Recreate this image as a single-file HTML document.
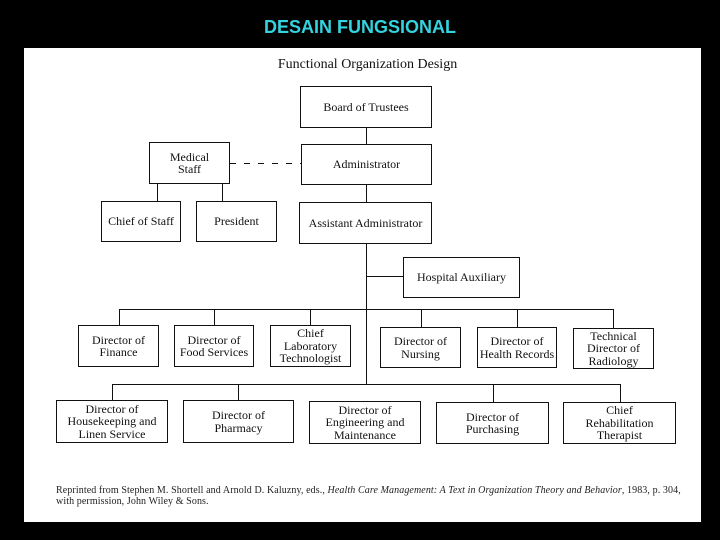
<!DOCTYPE html>
<html><head><meta charset="utf-8"><style>
body{margin:0;width:720px;height:540px;background:#000;overflow:hidden;position:relative;font-family:"Liberation Serif",serif}
.t{position:absolute;left:0;width:720px;top:17px;text-align:center;color:#33d3df;font:bold 18px "Liberation Sans",sans-serif}
.p{position:absolute;left:24px;top:48px;width:677px;height:474px;background:#fff}
.b{position:absolute;border:1.3px solid #111;box-sizing:border-box;display:flex;align-items:center;justify-content:center;text-align:center;font-size:12px;line-height:12.5px;color:#111;background:#fff}
.l{position:absolute;background:#111}
.fn{position:absolute;left:56px;top:485px;font-size:10px;letter-spacing:0.1px;line-height:11px;color:#222;width:640px;white-space:nowrap}
</style></head><body>
<div class="t">DESAIN FUNGSIONAL</div>
<div class="p"></div>
<div style="position:absolute;left:260px;top:57px;width:215px;text-align:center;font-size:14px;color:#111">Functional Organization Design</div>
<div class="l" style="left:366px;top:128px;width:1px;height:257px"></div>
<div class="l" style="left:230px;top:163px;width:71px;height:1px;background:repeating-linear-gradient(90deg,#111 0 6px,transparent 6px 14px)"></div>
<div class="l" style="left:157px;top:184px;width:1px;height:17px"></div>
<div class="l" style="left:222px;top:184px;width:1px;height:17px"></div>
<div class="l" style="left:366px;top:276px;width:37px;height:1px"></div>
<div class="l" style="left:119px;top:309px;width:495px;height:1px"></div>
<div class="l" style="left:119px;top:309px;width:1px;height:16px"></div>
<div class="l" style="left:214px;top:309px;width:1px;height:16px"></div>
<div class="l" style="left:310px;top:309px;width:1px;height:16px"></div>
<div class="l" style="left:421px;top:309px;width:1px;height:18px"></div>
<div class="l" style="left:517px;top:309px;width:1px;height:18px"></div>
<div class="l" style="left:613px;top:309px;width:1px;height:19px"></div>
<div class="l" style="left:112px;top:384px;width:509px;height:1px"></div>
<div class="l" style="left:112px;top:384px;width:1px;height:16px"></div>
<div class="l" style="left:238px;top:384px;width:1px;height:16px"></div>
<div class="l" style="left:493px;top:384px;width:1px;height:18px"></div>
<div class="l" style="left:620px;top:384px;width:1px;height:18px"></div>
<div class="b" style="left:300px;top:86px;width:132px;height:42px">Board of Trustees</div>
<div class="b" style="left:149px;top:142px;width:81px;height:42px">Medical<br>Staff</div>
<div class="b" style="left:301px;top:144px;width:131px;height:41px">Administrator</div>
<div class="b" style="left:101px;top:201px;width:80px;height:41px">Chief of Staff</div>
<div class="b" style="left:196px;top:201px;width:81px;height:41px">President</div>
<div class="b" style="left:299px;top:202px;width:133px;height:42px">Assistant Administrator</div>
<div class="b" style="left:403px;top:257px;width:117px;height:41px">Hospital Auxiliary</div>
<div class="b" style="left:78px;top:325px;width:81px;height:42px">Director of<br>Finance</div>
<div class="b" style="left:174px;top:325px;width:80px;height:42px">Director of<br>Food Services</div>
<div class="b" style="left:270px;top:325px;width:81px;height:42px">Chief<br>Laboratory<br>Technologist</div>
<div class="b" style="left:380px;top:327px;width:81px;height:41px">Director of<br>Nursing</div>
<div class="b" style="left:477px;top:327px;width:80px;height:41px">Director of<br>Health Records</div>
<div class="b" style="left:573px;top:328px;width:81px;height:41px">Technical<br>Director of<br>Radiology</div>
<div class="b" style="left:56px;top:400px;width:112px;height:43px">Director of<br>Housekeeping and<br>Linen Service</div>
<div class="b" style="left:183px;top:400px;width:111px;height:43px">Director of<br>Pharmacy</div>
<div class="b" style="left:309px;top:401px;width:112px;height:43px">Director of<br>Engineering and<br>Maintenance</div>
<div class="b" style="left:436px;top:402px;width:113px;height:42px">Director of<br>Purchasing</div>
<div class="b" style="left:563px;top:402px;width:113px;height:42px">Chief<br>Rehabilitation<br>Therapist</div>
<div class="fn">Reprinted from Stephen M. Shortell and Arnold D. Kaluzny, eds., <i>Health Care Management: A Text in Organization Theory and Behavior</i>, 1983, p. 304,<br>with permission, John Wiley &amp; Sons.</div>
</body></html>
